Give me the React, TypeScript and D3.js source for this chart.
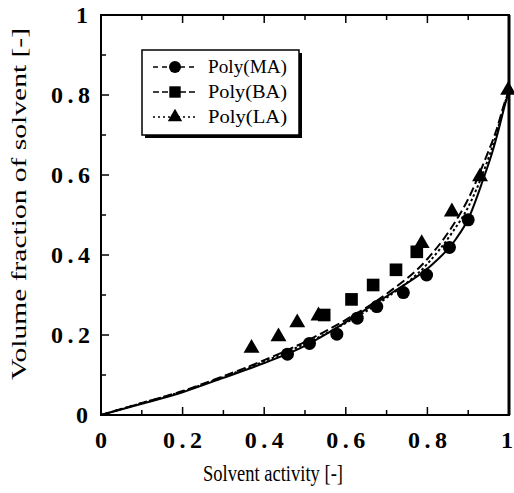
import React, { useRef, useEffect } from 'react';
import * as d3 from 'd3';

const maX = [0.457, 0.511, 0.578, 0.628, 0.676, 0.741, 0.798, 0.854, 0.9];
const maY = [0.152, 0.179, 0.202, 0.242, 0.271, 0.306, 0.35, 0.419, 0.488];
const baX = [0.547, 0.614, 0.667, 0.723, 0.774];
const baY = [0.25, 0.289, 0.325, 0.363, 0.408];
const laX = [0.369, 0.435, 0.481, 0.533, 0.786, 0.86, 0.929, 0.998];
const laY = [0.167, 0.196, 0.231, 0.248, 0.429, 0.508, 0.596, 0.812];

// fitted curves
const fitMaX = [0, 0.1, 0.2, 0.3, 0.4, 0.5, 0.56, 0.64, 0.72, 0.8, 0.87, 0.9, 0.937, 0.96, 0.975, 0.99, 1];
const fitMaY = [0, 0.028, 0.057, 0.093, 0.13, 0.173, 0.207, 0.258, 0.31, 0.366, 0.44, 0.49, 0.59, 0.66, 0.715, 0.775, 0.81];
const fitBaX = [0, 0.1, 0.2, 0.3, 0.4, 0.5, 0.6, 0.7, 0.8, 0.86, 0.9, 0.94, 0.97, 0.99, 1];
const fitBaY = [0, 0.03, 0.06, 0.097, 0.137, 0.183, 0.238, 0.303, 0.39, 0.47, 0.54, 0.635, 0.715, 0.783, 0.81];
const fitLaX = [0, 0.1, 0.2, 0.3, 0.4, 0.5, 0.6, 0.7, 0.8, 0.86, 0.9, 0.94, 0.97, 0.99, 1];
const fitLaY = [0, 0.03, 0.059, 0.095, 0.134, 0.178, 0.23, 0.293, 0.378, 0.455, 0.52, 0.615, 0.705, 0.78, 0.81];

const seriesNames = ['Poly(MA)', 'Poly(BA)', 'Poly(LA)'];
const majorTicks = [0, 0.2, 0.4, 0.6, 0.8, 1];
const minorTicks = [0.1, 0.3, 0.5, 0.7, 0.9];

const W = 514;
const H = 493;
const serif = '"Liberation Serif", "Times New Roman", serif';

export default function App() {
  const ref = useRef<SVGSVGElement>(null);

  useEffect(() => {
    const svg = d3.select(ref.current);
    svg.selectAll('*').remove();

    const x = d3.scaleLinear().domain([0, 1]).range([101, 509]);
    const y = d3.scaleLinear().domain([0, 1]).range([415, 15]);

    const fmt = (d: number) => (d === 0 || d === 1 ? String(d) : d.toFixed(1));

    // curves
    const line = d3.line<[number, number]>()
      .x(d => x(d[0]))
      .y(d => y(d[1]))
      .curve(d3.curveMonotoneX);

    const curves = [
      { xs: fitMaX, ys: fitMaY, dash: null },
      { xs: fitBaX, ys: fitBaY, dash: '9,4' },
      { xs: fitLaX, ys: fitLaY, dash: '2.5,2.5' },
    ];
    curves.forEach(c => {
      const pts = c.xs.map((v, i) => [v, c.ys[i]] as [number, number]);
      svg.append('path')
        .attr('d', line(pts))
        .attr('fill', 'none')
        .attr('stroke', '#000')
        .attr('stroke-width', 2)
        .attr('stroke-dasharray', c.dash);
    });

    // markers
    const g = svg.append('g');
    maX.forEach((v, i) => {
      g.append('circle').attr('cx', x(v)).attr('cy', y(maY[i])).attr('r', 6.5).attr('fill', '#000');
    });
    const sq = d3.symbol().type(d3.symbolSquare).size(160);
    baX.forEach((v, i) => {
      g.append('path').attr('d', sq()).attr('transform', `translate(${x(v)},${y(baY[i])})`).attr('fill', '#000');
    });
    const tri = d3.symbol().type(d3.symbolTriangle).size(110);
    laX.forEach((v, i) => {
      g.append('path').attr('d', tri()).attr('transform', `translate(${x(v)},${y(laY[i])})`).attr('fill', '#000');
    });

    // frame
    svg.append('rect')
      .attr('x', x(0)).attr('y', y(1))
      .attr('width', x(1) - x(0)).attr('height', y(0) - y(1))
      .attr('fill', 'none').attr('stroke', '#000').attr('stroke-width', 2);
    svg.append('line')
      .attr('x1', x(1)).attr('x2', x(1)).attr('y1', y(1)).attr('y2', y(0))
      .attr('stroke', '#000').attr('stroke-width', 3);

    // inward ticks: bottom, top, left
    const ticks = svg.append('g').attr('stroke', '#000').attr('stroke-width', 1.5);
    const tickSet = [
      ...majorTicks.map(t => ({ t, len: 8 })),
      ...minorTicks.map(t => ({ t, len: 5 })),
    ];
    tickSet.forEach(({ t, len }) => {
      ticks.append('line').attr('x1', x(t)).attr('x2', x(t)).attr('y1', y(0)).attr('y2', y(0) - len);
      ticks.append('line').attr('x1', x(t)).attr('x2', x(t)).attr('y1', y(1)).attr('y2', y(1) + len);
      ticks.append('line').attr('x1', x(0)).attr('x2', x(0) + len).attr('y1', y(t)).attr('y2', y(t));
    });

    // tick labels (the figure sets them widely spaced)
    const tickLabel = (sel: d3.Selection<SVGTextElement, unknown, null, undefined>, label: string) => {
      sel.style('font-family', serif)
        .style('font-weight', 'bold')
        .style('font-size', '24px')
        .text(label);
      if (label.length > 1) sel.attr('textLength', 39).attr('lengthAdjust', 'spacing');
    };
    majorTicks.forEach(t => {
      const lbl = fmt(t);
      tickLabel(
        svg.append('text')
          .attr('x', t === 1 ? x(t) - 2 : x(t))
          .attr('y', 448)
          .attr('text-anchor', 'middle'),
        lbl,
      );
      tickLabel(
        svg.append('text')
          .attr('x', lbl.length > 1 ? 90 : 88)
          .attr('y', y(t) + 8)
          .attr('text-anchor', 'end'),
        lbl,
      );
    });

    // axis titles
    svg.append('text')
      .attr('x', 273)
      .attr('y', 481)
      .attr('text-anchor', 'middle')
      .attr('textLength', 140)
      .attr('lengthAdjust', 'spacingAndGlyphs')
      .style('font-family', serif)
      .style('font-size', '23px')
      .text('Solvent activity [-]');
    svg.append('text')
      .attr('transform', 'translate(26,204) rotate(-90)')
      .attr('text-anchor', 'middle')
      .attr('textLength', 352)
      .attr('lengthAdjust', 'spacingAndGlyphs')
      .style('font-family', serif)
      .style('font-size', '21px')
      .text('Volume fraction of solvent [-]');

    // legend
    const lg = svg.append('g');
    lg.append('rect').attr('x', 145).attr('y', 53).attr('width', 157).attr('height', 85).attr('fill', '#000');
    lg.append('rect').attr('x', 142).attr('y', 50).attr('width', 157).attr('height', 85)
      .attr('fill', '#fff').attr('stroke', '#000').attr('stroke-width', 1.5);
    const rows = [67, 92, 117];
    const dashes = ['5,4', '6,3', '2,3'];
    seriesNames.forEach((name, i) => {
      const ry = rows[i];
      lg.append('line').attr('x1', 153).attr('x2', 197).attr('y1', ry).attr('y2', ry)
        .attr('stroke', '#000').attr('stroke-width', 1.5)
        .attr('stroke-dasharray', dashes[i]);
      if (i === 0) lg.append('circle').attr('cx', 175).attr('cy', ry).attr('r', 6).attr('fill', '#000');
      if (i === 1) lg.append('path').attr('d', d3.symbol().type(d3.symbolSquare).size(130)()).attr('transform', `translate(175,${ry})`).attr('fill', '#000');
      if (i === 2) lg.append('path').attr('d', d3.symbol().type(d3.symbolTriangle).size(90)()).attr('transform', `translate(175,${ry})`).attr('fill', '#000');
      lg.append('text')
        .attr('x', 208)
        .attr('y', ry + 6)
        .attr('textLength', 79)
        .attr('lengthAdjust', 'spacingAndGlyphs')
        .style('font-family', serif)
        .style('font-size', '19px')
        .text(name);
    });
  }, []);

  return (
    <svg
      ref={ref}
      width={W}
      height={H}
      style={{ position: 'absolute', left: 0, top: 0, background: '#fff' }}
    />
  );
}
